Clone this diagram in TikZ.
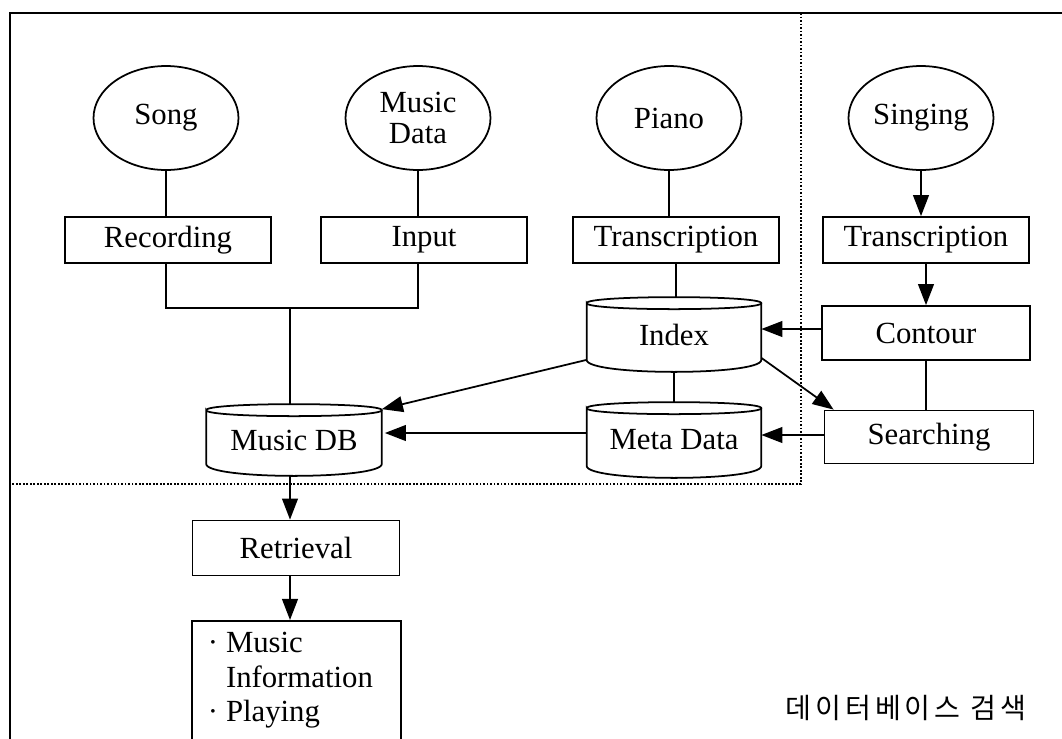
\documentclass[tikz,border=0pt]{standalone}
\usepackage{fontspec}
\setmainfont{Liberation Serif}
\newfontfamily\kr[LetterSpace=14]{Noto Sans CJK KR}
\usetikzlibrary{shapes.geometric,arrows.meta,calc}
\newcommand\drawcyl[1]{%
 \draw ($(#1.north west)+(0,6)$) .. controls ($(#1.north west)+(0,-2)$) and ($(#1.north east)+(0,-2)$) .. ($(#1.north east)+(0,6)$)
   .. controls ($(#1.north east)+(0,14)$) and ($(#1.north west)+(0,14)$) .. ($(#1.north west)+(0,6)$)
   -- ($(#1.south west)+(0,-12)$) .. controls ($(#1.south west)+(0,4)$) and ($(#1.south east)+(0,4)$) .. ($(#1.south east)+(0,-12)$)
   -- ($(#1.north east)+(0,6)$);}
\begin{document}
\begin{tikzpicture}[x=0.02cm,y=-0.02cm,
  font=\fontsize{17.5}{18}\selectfont,
  line width=1pt,
  oval/.style={ellipse,draw,minimum width=2.9cm,minimum height=2.08cm,inner sep=0pt,align=center},
  proc/.style={rectangle,draw,minimum width=4.12cm,minimum height=0.92cm,inner sep=0pt},
  store/.style={rectangle,draw=none,minimum width=3.46cm,inner sep=0pt},
  arr/.style={-{Triangle[length=12pt,width=9pt]}},
  sep/.style={line width=0.8pt,dash pattern=on 1pt off 1pt}]
\useasboundingbox (0,0) rectangle (1062,738);
\clip (0,0) rectangle (1062,738);
\fill[white] (0,0) rectangle (1062,738);
% outer frame
\draw[line width=1.1pt] (10,13) rectangle (1080,760);
% dotted area
\draw[sep] (801,13) -- (801,484) -- (10,484);

% sources
\node[oval] (song) at (166,118) {Song};
\node[oval] (mdata) at (418,118) {Music\\Data};
\node[oval] (piano) at (669,118) {Piano};
\node[oval] (sing) at (921,118) {Singing};

% process boxes
\node[proc] (rec) at (168,240) {Recording};
\node[proc] (inp) at (424,240) {Input};
\node[proc] (tr1) at (676,240) {Transcription};
\node[proc] (tr2) at (926,240) {Transcription};
\node[proc,minimum width=4.16cm,minimum height=1.08cm] (con) at (926,333) {Contour};
\node[proc,minimum width=4.18cm,minimum height=1.06cm] (srch) at (929,437) {Searching};
\node[proc,minimum width=4.14cm,minimum height=1.1cm] (ret) at (296,548) {Retrieval};

% stores
\node[store,minimum height=1.46cm] (idx) at (674,334.5) {Index};
\node[store,minimum height=1.48cm] (meta) at (674,440) {Meta Data};
\node[store,minimum width=3.48cm,minimum height=1.4cm] (mdb) at (294,440) {Music DB};
\drawcyl{idx}
\drawcyl{meta}
\drawcyl{mdb}

% output box
\node[draw,rectangle,anchor=north,minimum width=4.18cm,minimum height=3cm,inner sep=0pt] (info) at (296.5,620) {};
\node[anchor=north west,inner sep=0pt] (infotxt) at (207,627)
  {\renewcommand\arraystretch{1.1}\begin{tabular}{@{}l@{\hspace{4.5pt}}l@{}}·&Music\\ &Information\\ ·&Playing\end{tabular}};

% label
\node (lbl) at (906,708) {\kr\fontsize{16}{18}\selectfont 데이터베이스 검색};

% junction
\coordinate (j) at (290,308);

% connectors
\draw (song.south) -- (song.south |- rec.north);
\draw (mdata.south) -- (mdata.south |- inp.north);
\draw (piano.south) -- (piano.south |- tr1.north);
\draw (song.south |- rec.south) |- (mdata.south |- j) -- (mdata.south |- inp.south);
\draw (j) -- (j |- mdb.north);
\draw (tr1.south) -- (tr1.south |- idx.north);
\draw (idx.south) -- (idx.south |- meta.north);
\draw[arr] (sing.south) -- (sing.south |- tr2.north);
\draw[arr] (tr2.south) -- (tr2.south |- con.north);
\draw (con.south) -- (con.south |- srch.north);
\draw[arr] ($(con.west)+(0,-4)$) -- ($(con.west -| idx.east)+(0,-4)$);
\draw[arr] ($(srch.west)+(0,-2)$) -- ($(srch.west -| meta.east)+(0,-2)$);
\draw[arr] ($(meta.west)+(0,-7)$) -- ($(meta.west -| mdb.east)+(3,-7)$);
\draw[arr] ($(idx.south west)+(0,-12)$) -- ($(mdb.north east)+(0,5)$);
\draw[arr] ($(idx.south east)+(0,-14)$) -- ($(srch.north west)+(10,0)$);
\draw[arr] (j |- mdb.south) -- (j |- ret.north);
\draw[arr] (j |- ret.south) -- (j |- info.north);
\end{tikzpicture}
\end{document}
